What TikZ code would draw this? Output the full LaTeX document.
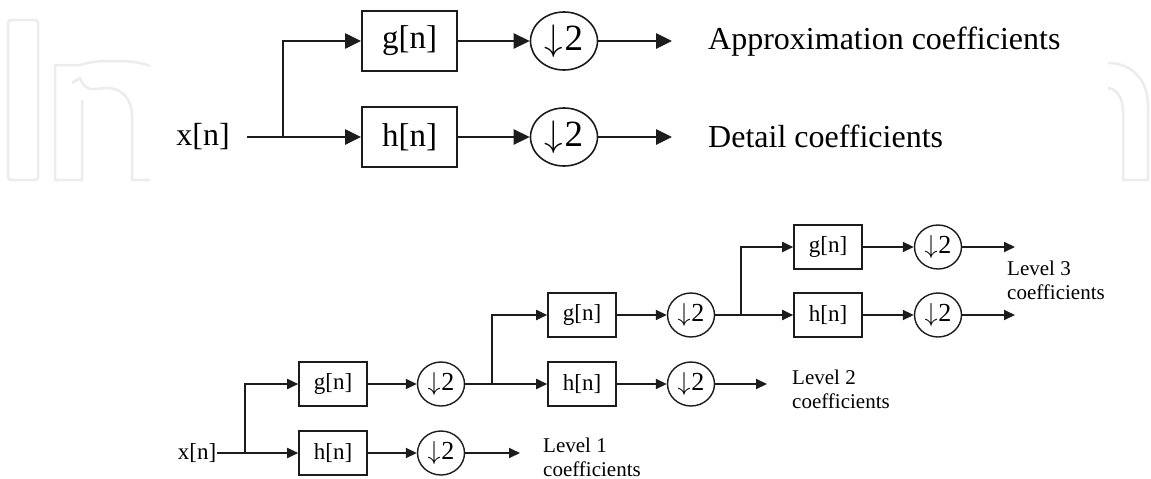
\RequirePackage{fix-cm}
\documentclass[tikz,border=0pt]{standalone}
\usepackage{fontspec}
\setmainfont{Liberation Serif}
\usetikzlibrary{arrows.meta,shapes.geometric}
\definecolor{wm}{RGB}{236,236,236}
\definecolor{ln}{RGB}{28,28,28}
\newcommand{\dnTwo}{$\downarrow$\kern0.03em 2}
\begin{document}
\begin{tikzpicture}[x=1pt,y=-1pt,
  tbox/.style={draw=ln, line width=2pt, minimum width=95pt, minimum height=60pt, inner sep=0pt, font=\fontsize{33}{36}\selectfont},
  bbox/.style={draw=ln, line width=1.6pt, minimum width=68pt, minimum height=44pt, inner sep=0pt, font=\fontsize{23}{26}\selectfont},
  tdown/.style={ellipse, draw=ln, line width=1.6pt, minimum width=67pt, minimum height=58pt, inner sep=0pt, font=\fontsize{37}{37}\selectfont},
  bdown/.style={ellipse, draw=ln, line width=1.4pt, minimum width=47pt, minimum height=44pt, inner sep=0pt, font=\fontsize{26}{26}\selectfont},
  tline/.style={draw=ln, line width=2.6pt},
  tarr/.style={tline, -{Triangle[length=16pt,width=15pt]}},
  bline/.style={draw=ln, line width=1.8pt},
  barr/.style={bline, -{Triangle[length=11pt,width=10pt]}},
  ttext/.style={inner sep=0pt, font=\fontsize{32}{36}\selectfont},
  btext/.style={inner sep=0pt, font=\fontsize{23}{26}\selectfont},
  ltext/.style={inner sep=0pt, align=left, font=\fontsize{21}{24}\selectfont},
  wmark/.style={draw=wm, line width=2.5pt, line join=round}
]
\useasboundingbox[fill=white] (0,0) rectangle (1151,479);

% faint watermark
\draw[wmark, rounded corners=3pt] (8,20) rectangle (38,180);
\draw[wmark] (150,180) -- (132,180) -- (132,116) .. controls (132,98) and (121,88) .. (107,88)
  .. controls (95,88) and (86,94) .. (80,78) -- (72,83);
\draw[wmark] (82,100) -- (82,180) -- (55,180) -- (55,65) -- (80,65)
  .. controls (92,61) and (104,61) .. (118,61) .. controls (132,61) and (143,63) .. (150,66);
\draw[wmark] (1108,63) .. controls (1132,63) and (1148,80) .. (1148,106) -- (1148,180) -- (1123,180)
  -- (1123,112) .. controls (1123,98) and (1117,89) .. (1108,88);

% ---------- top diagram ----------
\node[ttext] (xt) at (203,137) {x[n]};
\node[tbox] (gt) at (409.5,41) {g[n]};
\node[tbox] (ht) at (409.5,137) {h[n]};
\node[tdown] (dt1) at (564,41) {\dnTwo};
\node[tdown] (dt2) at (564,137) {\dnTwo};
\coordinate (jt) at (283,137);
\coordinate (ot1) at (672,41);
\coordinate (ot2) at (672,137);
\node[ttext, anchor=base west] (ta) at (708,49) {Approximation coefficients};
\node[ttext, anchor=base west] (td) at (708,147) {Detail coefficients};

\draw[tarr] ([xshift=17pt]xt.east) -- (ht.west);
\draw[tarr] (jt) |- (gt.west);
\draw[tarr] (gt) -- (dt1);
\draw[tarr] (ht) -- (dt2);
\draw[tarr] (dt1) -- (ot1);
\draw[tarr] (dt2) -- (ot2);

% ---------- bottom diagram ----------
\node[btext] (xb) at (197,453) {x[n]};
\node[bbox] (gb1) at (333,384) {g[n]};
\node[bbox] (hb1) at (333,453) {h[n]};
\node[bdown] (db1) at (441,384) {\dnTwo};
\node[bdown] (db2) at (441,453) {\dnTwo};
\coordinate (jb1) at (245,453);
\coordinate (ob1) at (520,453);
\node[ltext, anchor=west] (l1) at (543,457) {Level 1\\coefficients};

\node[bbox] (gb2) at (582,315) {g[n]};
\node[bbox] (hb2) at (582,384) {h[n]};
\node[bdown] (db3) at (691,315) {\dnTwo};
\node[bdown] (db4) at (691,384) {\dnTwo};
\coordinate (jb2) at (492,384);
\coordinate (ob2) at (767,384);
\node[ltext, anchor=west] (l2) at (792,389) {Level 2\\coefficients};

\node[bbox] (gb3) at (828,247) {g[n]};
\node[bbox] (hb3) at (828,315) {h[n]};
\node[bdown] (db5) at (938,247) {\dnTwo};
\node[bdown] (db6) at (938,315) {\dnTwo};
\coordinate (jb3) at (741,315);
\coordinate (ob3) at (1015,247);
\coordinate (ob4) at (1015,315);
\node[ltext, anchor=west] (l3) at (1007,280) {Level 3\\coefficients};

\draw[barr] ([xshift=1pt]xb.east) -- (hb1.west);
\draw[barr] (jb1) |- (gb1.west);
\draw[barr] (gb1) -- (db1);
\draw[barr] (hb1) -- (db2);
\draw[barr] (db2) -- (ob1);

\draw[barr] (db1) -- (hb2);
\draw[barr] (jb2) |- (gb2.west);
\draw[barr] (gb2) -- (db3);
\draw[barr] (hb2) -- (db4);
\draw[barr] (db4) -- (ob2);

\draw[barr] (db3) -- (hb3);
\draw[barr] (jb3) |- (gb3.west);
\draw[barr] (gb3) -- (db5);
\draw[barr] (hb3) -- (db6);
\draw[barr] (db5) -- (ob3);
\draw[barr] (db6) -- (ob4);
\end{tikzpicture}
\end{document}
